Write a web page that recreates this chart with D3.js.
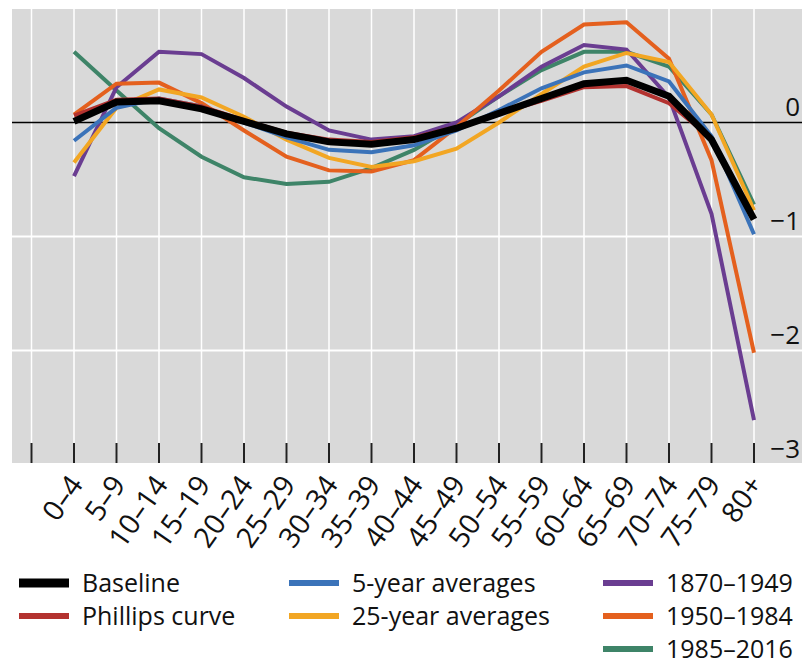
<!DOCTYPE html>
<html>
<head>
<meta charset="utf-8">
<script src="https://cdn.jsdelivr.net/npm/d3@7"></script>
<style>
  html, body { margin: 0; padding: 0; background: #fff; }
  svg { display: block; }
  text { font-family: "Open Sans", "Noto Sans", sans-serif; fill: #111; }
</style>
</head>
<body>
<svg id="chart" width="802" height="665"></svg>
<script>
// Age groups along the horizontal axis
const ageGroups = ["0–4","5–9","10–14","15–19","20–24","25–29","30–34","35–39","40–44",
                   "45–49","50–54","55–59","60–64","65–69","70–74","75–79","80+"];

// Effect by age group, one array per estimate
const baseline    = [0.01, 0.18, 0.19, 0.12, 0.01, -0.10, -0.17, -0.19, -0.15, -0.05, 0.08, 0.21, 0.34, 0.37, 0.23, -0.15, -0.85];
const phillips    = [0.06, 0.20, 0.21, 0.14, 0.02, -0.09, -0.15, -0.17, -0.13, -0.04, 0.08, 0.19, 0.31, 0.32, 0.17, -0.14, -0.84];
const avg5        = [-0.16, 0.13, 0.21, 0.14, 0.00, -0.13, -0.24, -0.26, -0.20, -0.07, 0.11, 0.30, 0.44, 0.50, 0.36, -0.12, -0.98];
const avg25       = [-0.35, 0.13, 0.29, 0.22, 0.05, -0.15, -0.31, -0.39, -0.34, -0.23, 0.00, 0.25, 0.49, 0.61, 0.53, 0.07, -0.77];
const p1870_1949  = [-0.47, 0.31, 0.62, 0.60, 0.39, 0.14, -0.07, -0.15, -0.12, 0.00, 0.23, 0.49, 0.68, 0.64, 0.22, -0.80, -2.61];
const p1950_1984  = [0.07, 0.34, 0.35, 0.17, -0.07, -0.30, -0.42, -0.43, -0.33, -0.04, 0.28, 0.62, 0.86, 0.88, 0.56, -0.33, -2.02];
const p1985_2016  = [0.62, 0.28, -0.05, -0.30, -0.48, -0.54, -0.52, -0.40, -0.24, -0.02, 0.23, 0.46, 0.62, 0.62, 0.49, 0.07, -0.72];

const yTicks = [0, -1, -2, -3];

// Series in drawing order (bottom first); legend order is kept separately
const series = [
  { name: "1985–2016",        values: p1985_2016, color: "#3e8468", width: 4 },
  { name: "1870–1949",        values: p1870_1949, color: "#6a3d91", width: 4 },
  { name: "1950–1984",        values: p1950_1984, color: "#e4601e", width: 4 },
  { name: "25-year averages", values: avg25,      color: "#f2a623", width: 4 },
  { name: "5-year averages",  values: avg5,       color: "#3b73b9", width: 4 },
  { name: "Phillips curve",   values: phillips,   color: "#b3322f", width: 4 },
  { name: "Baseline",         values: baseline,   color: "#000000", width: 7 }
];
const legendOrder = [
  ["Baseline", "Phillips curve"],
  ["5-year averages", "25-year averages"],
  ["1870–1949", "1950–1984", "1985–2016"]
];

const svg = d3.select("#chart");
const plot = { left: 12, right: 802, top: 9, bottom: 463 };

const x = d3.scalePoint().domain(ageGroups).range([74, 754]);
const y = d3.scaleLinear().domain([-3, 1]).range([464.5, 8.5]);
const step = x.step();

// Grey panel
svg.append("rect")
  .attr("x", plot.left).attr("y", plot.top)
  .attr("width", plot.right - plot.left).attr("height", plot.bottom - plot.top)
  .attr("fill", "#d9d9d9");

// Vertical gridlines: one per age group plus one leading slot
const gridX = [x(ageGroups[0]) - step].concat(ageGroups.map(d => x(d)));
svg.append("g").selectAll("line").data(gridX).join("line")
  .attr("x1", d => d).attr("x2", d => d)
  .attr("y1", plot.top).attr("y2", plot.bottom)
  .attr("stroke", "#fff").attr("stroke-width", 1.5);

// Horizontal gridlines
svg.append("g").selectAll("line").data(yTicks.filter(v => v !== 0 && v !== -3)).join("line")
  .attr("x1", plot.left).attr("x2", plot.right)
  .attr("y1", d => y(d)).attr("y2", d => y(d))
  .attr("stroke", "#fff").attr("stroke-width", 2);

// Zero line
svg.append("line")
  .attr("x1", plot.left).attr("x2", plot.right)
  .attr("y1", y(0)).attr("y2", y(0))
  .attr("stroke", "#000").attr("stroke-width", 1.3);

// Tick marks inside the bottom of the panel
svg.append("g").selectAll("line").data(gridX).join("line")
  .attr("x1", d => d).attr("x2", d => d)
  .attr("y1", plot.bottom - 20).attr("y2", plot.bottom)
  .attr("stroke", "#222").attr("stroke-width", 2);

// Value labels on the right, sitting above their gridlines
svg.append("g").selectAll("text").data(yTicks).join("text")
  .attr("x", 800).attr("y", d => y(d) - 7)
  .attr("text-anchor", "end")
  .attr("font-size", 26)
  .text(d => d === 0 ? "0" : "−" + Math.abs(d));

// Lines
const line = d3.line()
  .x((d, i) => x(ageGroups[i]))
  .y(d => y(d));

svg.append("g").selectAll("path").data(series).join("path")
  .attr("d", d => line(d.values))
  .attr("fill", "none")
  .attr("stroke", d => d.color)
  .attr("stroke-width", d => d.width)
  .attr("stroke-linejoin", "miter");

// Rotated age-group labels
svg.append("g").selectAll("text").data(ageGroups).join("text")
  .attr("transform", d => `translate(${x(d) + 2},${479}) rotate(-55)`)
  .attr("text-anchor", "end")
  .attr("dy", "0.35em")
  .attr("font-size", 28.5)
  .text(d => d);

// Legend
const colX = [[19, 82], [289, 352], [603, 666]];
const rowY = [583, 616, 649];
const byName = Object.fromEntries(series.map(s => [s.name, s]));
legendOrder.forEach((col, ci) => {
  col.forEach((name, ri) => {
    const s = byName[name];
    const g = svg.append("g");
    g.append("line")
      .attr("x1", colX[ci][0]).attr("x2", colX[ci][0] + 50)
      .attr("y1", rowY[ri]).attr("y2", rowY[ri])
      .attr("stroke", s.color)
      .attr("stroke-width", name === "Baseline" ? 9 : 6);
    g.append("text")
      .attr("x", colX[ci][1]).attr("y", rowY[ri])
      .attr("dy", "0.35em")
      .attr("font-size", 25)
      .text(name);
  });
});
</script>
</body>
</html>
